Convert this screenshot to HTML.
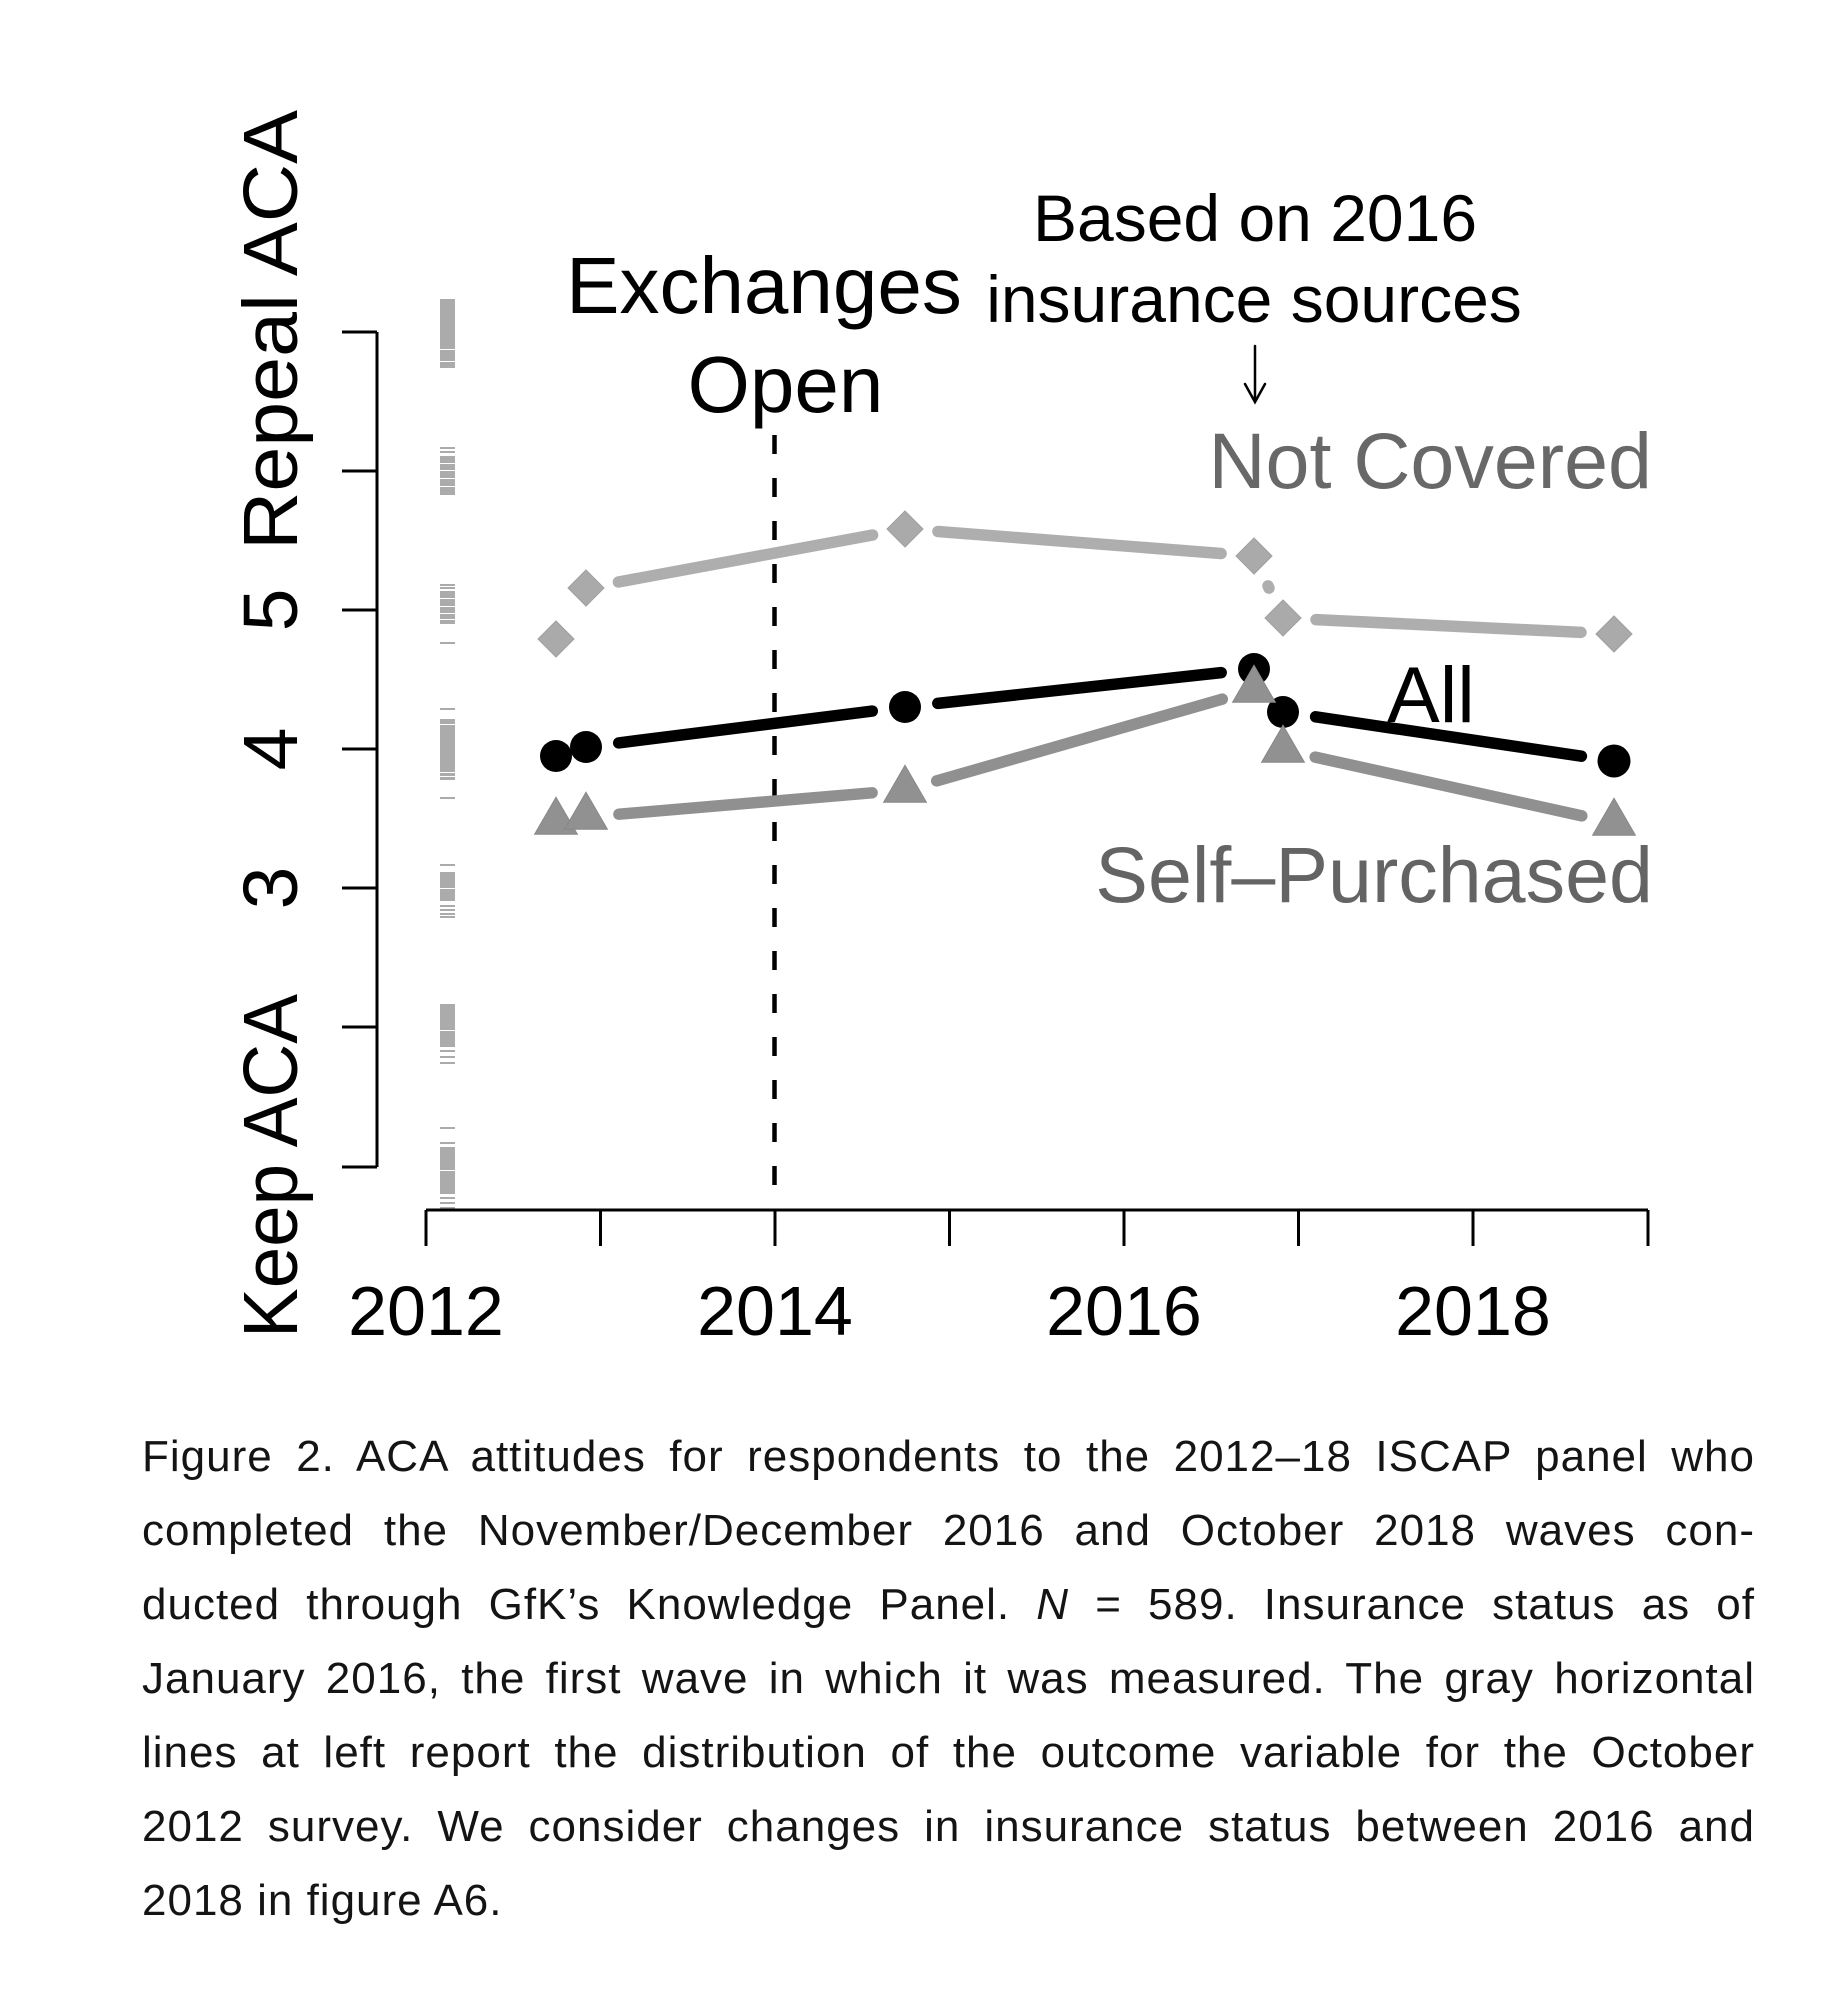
<!DOCTYPE html>
<html>
<head>
<meta charset="utf-8">
<style>
  html, body { margin:0; padding:0; background:#fff; }
  body { width:1833px; height:2000px; position:relative; overflow:hidden; }
  svg { position:absolute; left:0; top:0; }
  .cap { position:absolute; left:142px; top:1420px; width:1613px;
         font-family:"Liberation Sans", sans-serif; font-size:44px; line-height:74px;
         letter-spacing:1px; color:#141414; }
  .cap div { text-align:justify; text-align-last:justify; height:74px; }
  .cap div.last { text-align:left; text-align-last:left; }
</style>
</head>
<body>
<svg width="1833" height="2000" viewBox="0 0 1833 2000" xmlns="http://www.w3.org/2000/svg" font-family="Liberation Sans, Arial, sans-serif">
  <!-- rug marks -->
  <g fill="#ababab">
    <rect x="440" y="299" width="15" height="69"/>
    <rect x="440" y="447" width="15" height="2"/>
    <rect x="440" y="451" width="15" height="2"/>
    <rect x="440" y="456" width="15" height="39"/>
    <rect x="440" y="584" width="15" height="2"/>
    <rect x="440" y="587" width="15" height="2"/>
    <rect x="440" y="591" width="15" height="33"/>
    <rect x="440" y="642" width="15" height="2"/>
    <rect x="440" y="708" width="15" height="2"/>
    <rect x="440" y="719" width="15" height="61"/>
    <rect x="440" y="797" width="15" height="2"/>
    <rect x="440" y="864" width="15" height="2"/>
    <rect x="440" y="872" width="15" height="29"/>
    <rect x="440" y="905" width="15" height="2"/>
    <rect x="440" y="909" width="15" height="2"/>
    <rect x="440" y="913" width="15" height="2"/>
    <rect x="440" y="916" width="15" height="2"/>
    <rect x="440" y="1004" width="15" height="43"/>
    <rect x="440" y="1050" width="15" height="2"/>
    <rect x="440" y="1056" width="15" height="2"/>
    <rect x="440" y="1062" width="15" height="2"/>
    <rect x="440" y="1127" width="15" height="2"/>
    <rect x="440" y="1142" width="15" height="2"/>
    <rect x="440" y="1147" width="15" height="47"/>
    <rect x="440" y="1197" width="15" height="2"/>
    <rect x="440" y="1202" width="15" height="2"/>
    <rect x="440" y="1207" width="15" height="2"/>
  </g>
  <g fill="#ffffff">
    <rect x="440" y="349" width="15" height="1"/>
    <rect x="440" y="361" width="15" height="1"/>
    <rect x="440" y="463" width="15" height="1"/>
    <rect x="440" y="470" width="15" height="1"/>
    <rect x="440" y="478" width="15" height="1"/>
    <rect x="440" y="486" width="15" height="1"/>
    <rect x="440" y="598" width="15" height="1"/>
    <rect x="440" y="606" width="15" height="1"/>
    <rect x="440" y="613" width="15" height="1"/>
    <rect x="440" y="619" width="15" height="1"/>
    <rect x="440" y="724" width="15" height="1"/>
    <rect x="440" y="772" width="15" height="1"/>
    <rect x="440" y="776" width="15" height="1"/>
    <rect x="440" y="888" width="15" height="1"/>
    <rect x="440" y="1030" width="15" height="1"/>
    <rect x="440" y="1170" width="15" height="1"/>
  </g>

  <!-- axes -->
  <g stroke="#000" stroke-width="3" fill="none" stroke-linecap="butt">
    <path d="M377 332 V1167"/>
    <path d="M342 332 H377 M342 471 H377 M342 610 H377 M342 749 H377 M342 888 H377 M342 1027 H377 M342 1167 H377"/>
    <path d="M426 1210 H1648"/>
    <path d="M426 1210 V1246 M600.5 1210 V1246 M775 1210 V1246 M949.5 1210 V1246 M1124 1210 V1246 M1298.5 1210 V1246 M1473 1210 V1246 M1648 1210 V1246"/>
  </g>

  <!-- dashed vertical line -->
  <line x1="774.5" y1="435" x2="774.5" y2="1210" stroke="#000" stroke-width="4.5" stroke-dasharray="19 24"/>

  <!-- y axis labels -->
  <g font-size="77" fill="#000" text-anchor="middle">
    <text transform="translate(297,330) rotate(-90)" textLength="440" lengthAdjust="spacingAndGlyphs">Repeal ACA</text>
    <text transform="translate(297,610) rotate(-90)">5</text>
    <text transform="translate(297,749) rotate(-90)">4</text>
    <text transform="translate(297,888) rotate(-90)">3</text>
    <text transform="translate(297,1166) rotate(-90)" textLength="344" lengthAdjust="spacingAndGlyphs">Keep ACA</text>
  </g>

  <!-- x axis labels -->
  <g font-size="70" fill="#000" text-anchor="middle">
    <text x="426" y="1335">2012</text>
    <text x="775" y="1335">2014</text>
    <text x="1124" y="1335">2016</text>
    <text x="1473" y="1335">2018</text>
  </g>

  <!-- Not Covered series -->
  <g stroke="#aeaeae" stroke-width="11.5" stroke-linecap="round" fill="none">
    <line x1="618.4" y1="582.0" x2="872.6" y2="535.0"/>
    <line x1="937.9" y1="531.5" x2="1221.1" y2="553.5"/>
    <line x1="1268.0" y1="585.9" x2="1269.0" y2="588.1"/>
    <line x1="1316.0" y1="619.6" x2="1581.0" y2="632.4"/>
  </g>
  <g fill="#aaaaaa" stroke="#a0a0a0" stroke-width="1">
    <polygon points="556,621 574,639 556,657 538,639"/>
    <polygon points="586,570 604,588 586,606 568,588"/>
    <polygon points="905,511 923,529 905,547 887,529"/>
    <polygon points="1254,538 1272,556 1254,574 1236,556"/>
    <polygon points="1283,600 1301,618 1283,636 1265,618"/>
    <polygon points="1614,616 1632,634 1614,652 1596,634"/>
  </g>

  <!-- All series -->
  <g stroke="#000" stroke-width="11.5" stroke-linecap="round" fill="none">
    <line x1="618.7" y1="742.9" x2="872.3" y2="711.1"/>
    <line x1="937.8" y1="703.4" x2="1221.2" y2="672.6"/>
    <line x1="1315.6" y1="716.8" x2="1581.4" y2="756.2"/>
  </g>
  <g fill="#000">
    <circle cx="556" cy="756" r="16"/>
    <circle cx="586" cy="747" r="16"/>
    <circle cx="905" cy="707" r="16"/>
    <circle cx="1254" cy="669" r="16"/>
    <circle cx="1283" cy="712" r="16"/>
    <circle cx="1614" cy="761" r="16.5"/>
  </g>

  <!-- Self-Purchased series -->
  <g stroke="#909090" stroke-width="11.5" stroke-linecap="round" fill="none">
    <line x1="618.9" y1="814.2" x2="872.1" y2="792.8"/>
    <line x1="936.7" y1="780.9" x2="1222.3" y2="699.1"/>
    <line x1="1315.2" y1="757.1" x2="1581.8" y2="815.9"/>
  </g>
  <g fill="#919191" stroke="#888" stroke-width="1">
    <polygon points="556,797.3 577.4,834.3 534.6,834.3"/>
    <polygon points="586,792.3 607.4,829.3 564.6,829.3"/>
    <polygon points="905,765.3 926.4,802.3 883.6,802.3"/>
    <polygon points="1254,665.3 1275.4,702.3 1232.6,702.3"/>
    <polygon points="1283,725.3 1304.4,762.3 1261.6,762.3"/>
    <polygon points="1614,798.3 1635.4,835.3 1592.6,835.3"/>
  </g>

  <!-- annotations -->
  <g fill="#000">
    <text x="764" y="313" font-size="80" text-anchor="middle">Exchanges</text>
    <text x="785.5" y="412" font-size="80" text-anchor="middle">Open</text>
    <text x="1255" y="241" font-size="66" text-anchor="middle">Based on 2016</text>
    <text x="1254" y="322" font-size="66" text-anchor="middle">insurance sources</text>
    <text x="1387" y="722" font-size="79">All</text>
  </g>
  <g stroke="#000" stroke-width="2.5" fill="none" stroke-linecap="round">
    <line x1="1255" y1="346" x2="1255" y2="401"/>
    <polyline points="1245,384 1255,402 1265,384"/>
  </g>
  <text x="1652" y="488" font-size="79" fill="#686868" text-anchor="end">Not Covered</text>
  <text x="1653" y="902" font-size="79" fill="#646464" text-anchor="end">Self–Purchased</text>
</svg>

<div class="cap">
  <div>Figure 2. ACA attitudes for respondents to the 2012–18 ISCAP panel who</div>
  <div>completed the November/December 2016 and October 2018 waves con-</div>
  <div>ducted through GfK’s Knowledge Panel. <i>N</i> = 589. Insurance status as of</div>
  <div>January 2016, the first wave in which it was measured. The gray horizontal</div>
  <div>lines at left report the distribution of the outcome variable for the October</div>
  <div>2012 survey. We consider changes in insurance status between 2016 and</div>
  <div class="last">2018 in figure A6.</div>
</div>
</body>
</html>
